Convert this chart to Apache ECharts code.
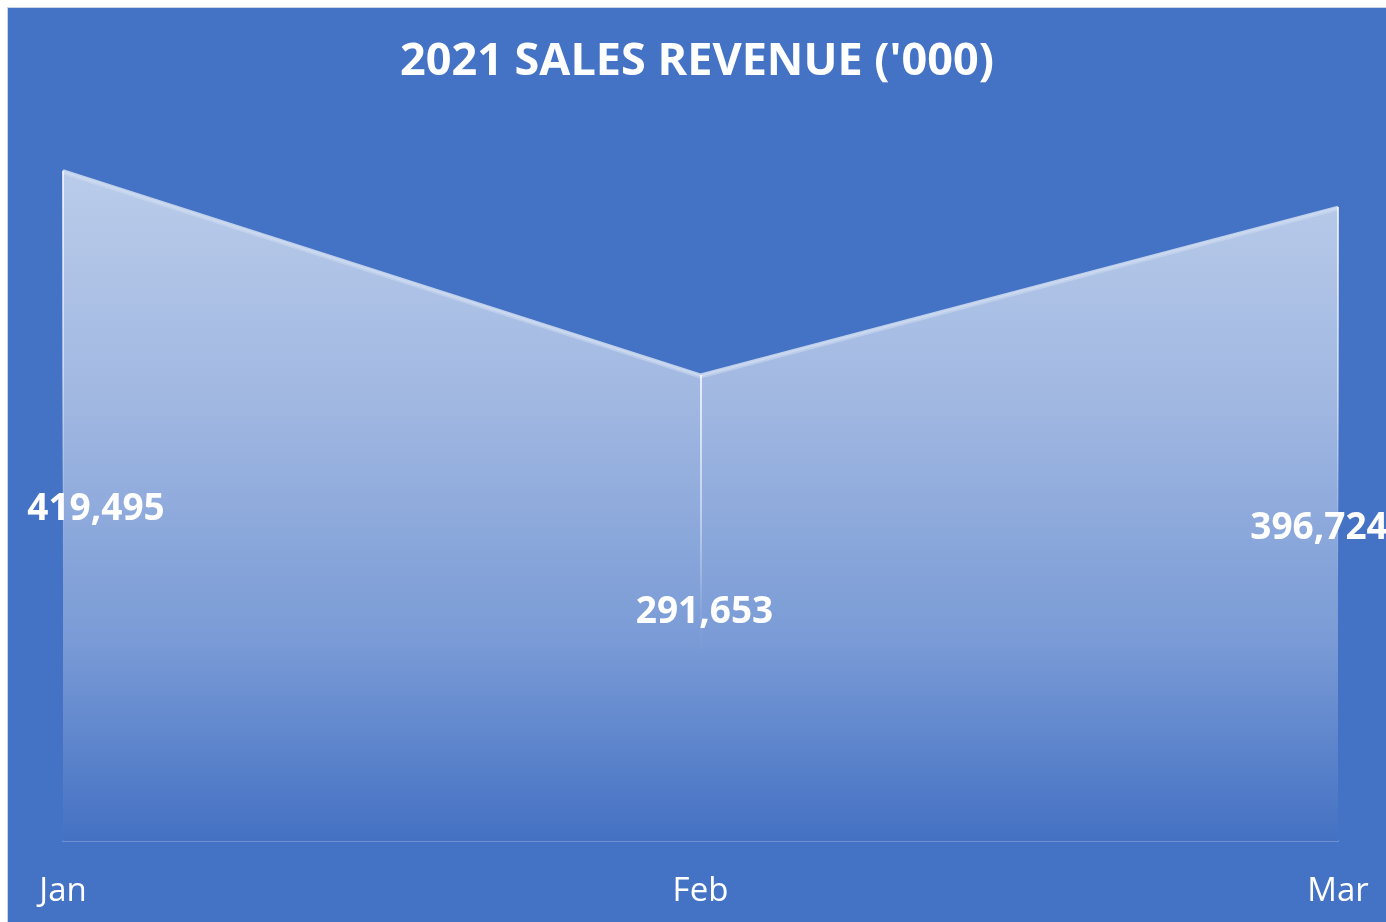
<!DOCTYPE html>
<html>
<head>
<meta charset="utf-8">
<script src="https://cdn.jsdelivr.net/npm/echarts@6/dist/echarts.min.js"></script>
<style>
  html, body { margin: 0; padding: 0; background: #ffffff; width: 1386px; height: 922px; overflow: hidden; }
  #chart { position: absolute; left: 7px; top: 7px; width: 1378px; height: 914px; border-left: 1px solid #c9d5ea; border-top: 1px solid #c9d5ea; }
</style>
</head>
<body>
<div id="chart"></div>
<script>
// Monthly revenue, in thousands
const months = ['Jan', 'Feb', 'Mar'];
const revenue = [419495, 291653, 396724];
const chartTitle = "2021 SALES REVENUE ('000)";

const fmt = v => v.toLocaleString('en-US');
const chart = echarts.init(document.getElementById('chart'));

// value labels sit halfway up each column of the area
const labelShift = [33, 4, -19];
const labelPoints = revenue.map((v, i) => ({
  value: [months[i], v / 2],
  raw: v,
  label: { offset: [labelShift[i], 4] }
}));

// fading highlight lines running down from each data point
const dropLines = revenue.map((v, i) => [
  { coord: [months[i], v] },
  { coord: [months[i], 0] }
]);

chart.setOption({
  backgroundColor: '#4472C4',
  animation: false,
  title: {
    text: chartTitle,
    left: 'center',
    top: 27,
    textStyle: {
      color: '#ffffff',
      fontFamily: 'Open Sans',
      fontWeight: 'bold',
      fontSize: 45
    }
  },
  grid: { left: 55, right: 48, top: 114, bottom: 81 },
  xAxis: {
    type: 'category',
    data: months,
    boundaryGap: false,
    axisLine: { show: true, lineStyle: { color: 'rgba(255,255,255,0.22)', width: 2 } },
    axisTick: { show: false },
    splitLine: { show: false },
    axisLabel: {
      color: '#ffffff',
      fontFamily: 'Open Sans',
      fontSize: 33,
      margin: 34
    }
  },
  yAxis: {
    type: 'value',
    min: 0,
    max: 450000,
    show: false,
    splitLine: { show: false }
  },
  series: [
    {
      type: 'line',
      data: revenue,
      symbol: 'none',
      lineStyle: {
        color: 'rgba(206,219,241,0.9)',
        width: 3,
        shadowColor: 'rgba(206,219,241,0.6)',
        shadowOffsetY: 2,
        shadowBlur: 0
      },
      areaStyle: {
        opacity: 1,
        color: new echarts.graphic.LinearGradient(0, 0, 0, 1, [
          { offset: 0, color: '#BACCEA' },
          { offset: 0.35, color: '#A0B7E1' },
          { offset: 0.7, color: '#7A9BD6' },
          { offset: 1, color: '#4471C3' }
        ])
      },
      markLine: {
        silent: true,
        symbol: ['none', 'none'],
        label: { show: false },
        lineStyle: {
          type: 'solid',
          width: 1.5,
          color: new echarts.graphic.LinearGradient(0, 0, 0, 1, [
            { offset: 0, color: 'rgba(255,255,255,1)' },
            { offset: 0.3, color: 'rgba(255,255,255,0.6)' },
            { offset: 0.5, color: 'rgba(255,255,255,0.1)' },
            { offset: 0.6, color: 'rgba(255,255,255,0)' },
            { offset: 1, color: 'rgba(255,255,255,0)' }
          ])
        },
        data: dropLines
      },
      z: 2
    },
    {
      type: 'scatter',
      data: labelPoints,
      symbolSize: 0,
      silent: true,
      z: 5,
      itemStyle: { opacity: 1 },
      label: {
        show: true,
        position: 'inside',
        color: '#ffffff',
        opacity: 1,
        textBorderWidth: 0,
        fontFamily: 'Open Sans',
        fontWeight: 'bold',
        fontSize: 37,
        formatter: p => fmt(p.data.raw)
      }
    }
  ]
});
</script>
</body>
</html>
